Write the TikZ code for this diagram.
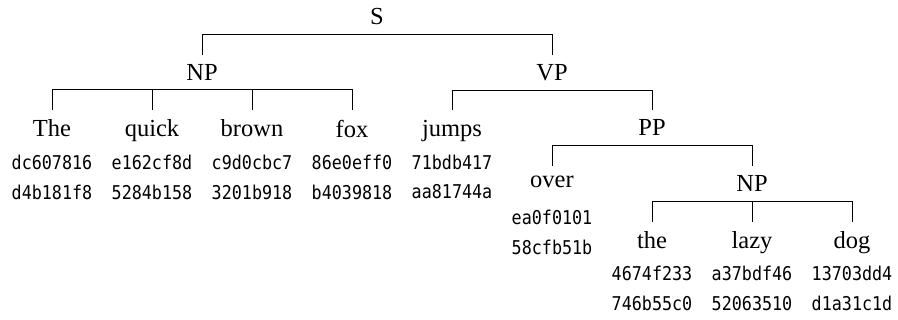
\documentclass[tikz,border=0pt]{standalone}
\usepackage{fontspec}
\setmainfont{Liberation Serif}
\newfontfamily\hashfont[FakeStretch=0.88]{DejaVu Sans Mono}
\usepackage{tikz}
\usetikzlibrary{positioning}

\tikzset{
  cat/.style={anchor=north, inner xsep=0pt, inner ysep=4.55pt,
    font=\fontsize{12.25pt}{14pt}\selectfont},
  hash/.style={inner sep=0pt, font=\hashfont\fontsize{9.5pt}{11pt}\selectfont},
  branch/.style={line width=0.5pt},
}

\begin{document}
\begin{tikzpicture}[x=0.5pt, y=-0.5pt]
  \useasboundingbox (0,0) rectangle (898,320);

  % Phrases
  \node[cat] (s) at (377,-1) {S};
  \node[cat] (np) at (202,54.7) {NP};
  \node[cat] (vp) at (552,54.7) {VP};
  \node[cat] (pp) at (652,110.4) {PP};
  \node[cat] (np2) at (752,166.1) {NP};

  % Words with their two hashes
  \foreach \n/\x/\y/\w/\ha/\hb in {
      w1/52/110.4/The/dc607816/d4b181f8,
      w2/152/110.4/quick/e162cf8d/5284b158,
      w3/252/110.4/brown/c9d0cbc7/3201b918,
      w4/352/110.4/fox/86e0eff0/b4039818,
      w5/452/110.4/jumps/71bdb417/aa81744a,
      w6/552/166.1/over/ea0f0101/58cfb51b,
      w7/652/221.8/the/4674f233/746b55c0,
      w8/752/221.8/lazy/a37bdf46/52063510,
      w9/852/221.8/dog/13703dd4/d1a31c1d}{
    \node[cat] (\n) at (\x,\y) {\w};
    \node[hash, below=22pt of \n.north] (\n a) {\ha};
    \node[hash, below=37pt of \n.north] (\n b) {\hb};
  }

  % Branches
  \draw[branch] (s.south) -| (np.north);
  \draw[branch] (s.south) -| (vp.north);
  \foreach \c in {w1,w2,w3,w4}
    \draw[branch] (np.south) -| (\c.north);
  \draw[branch] (vp.south) -| (w5.north);
  \draw[branch] (vp.south) -| (pp.north);
  \draw[branch] (pp.south) -| (w6.north);
  \draw[branch] (pp.south) -| (np2.north);
  \foreach \c in {w7,w8,w9}
    \draw[branch] (np2.south) -| (\c.north);

\end{tikzpicture}
\end{document}
